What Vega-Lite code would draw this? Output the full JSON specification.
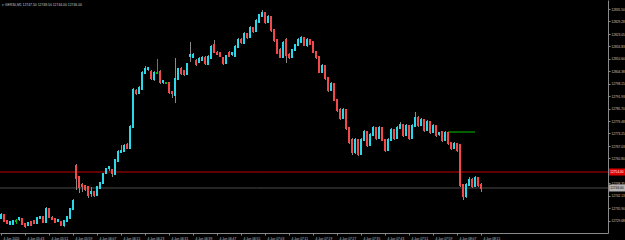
{
"$schema": "https://vega.github.io/schema/vega-lite/v6.json",
"width": 608, "height": 233,
"autosize": {"type": "none"},
"padding": {"left": 0, "top": 0, "right": 17, "bottom": 7},
"background": "#000000",
"config": {"view": {"stroke": null}, "font": "Liberation Sans",
  "axis": {"grid": false, "labelOverlap": false, "labelBound": false, "labelFlush": false, "title": null, "labelFont": "Liberation Sans",
           "domainColor": "#8a8a8a", "tickColor": "#8a8a8a", "tickSize": 2, "labelColor": "#c8c8c8", "labelFontSize": 3.2, "labelPadding": 1}},
"data": {"values": [
{"i":0,"o":12731,"h":12733.5,"l":12730.5,"c":12732.5},
{"i":1,"o":12732.5,"h":12733,"l":12729,"c":12729.5},
{"i":2,"o":12729.5,"h":12730,"l":12728,"c":12728.5},
{"i":3,"o":12728,"h":12729.5,"l":12727.5,"c":12729},
{"i":4,"o":12728,"h":12730,"l":12727.5,"c":12729.5},
{"i":5,"o":12729.5,"h":12730.5,"l":12728,"c":12729.5},
{"i":6,"o":12730.5,"h":12731.5,"l":12729.5,"c":12731},
{"i":7,"o":12730.5,"h":12731,"l":12727.5,"c":12728},
{"i":8,"o":12728,"h":12728.5,"l":12726,"c":12727},
{"i":9,"o":12727.5,"h":12729,"l":12727,"c":12728.5},
{"i":10,"o":12729,"h":12729.5,"l":12727,"c":12727.5},
{"i":11,"o":12729.5,"h":12730,"l":12728,"c":12728.5},
{"i":12,"o":12728.5,"h":12731.5,"l":12728,"c":12731},
{"i":13,"o":12731,"h":12732,"l":12730.5,"c":12731.5},
{"i":14,"o":12731.5,"h":12732,"l":12728.5,"c":12729},
{"i":15,"o":12729,"h":12736.5,"l":12728.5,"c":12735.5},
{"i":16,"o":12735.5,"h":12736,"l":12731,"c":12731.5},
{"i":17,"o":12731,"h":12732,"l":12730,"c":12730.5},
{"i":18,"o":12730.5,"h":12731,"l":12728.5,"c":12729},
{"i":19,"o":12729.5,"h":12730.5,"l":12729,"c":12730},
{"i":20,"o":12729,"h":12729.5,"l":12727,"c":12727.5},
{"i":21,"o":12727.5,"h":12730,"l":12726.5,"c":12729.5},
{"i":22,"o":12729.5,"h":12732,"l":12729,"c":12731.5},
{"i":23,"o":12731,"h":12736,"l":12730.5,"c":12735.5},
{"i":24,"o":12735.5,"h":12740.5,"l":12735,"c":12739.5},
{"i":25,"o":12757,"h":12758,"l":12745,"c":12751},
{"i":26,"o":12751.5,"h":12752,"l":12743.5,"c":12746.5},
{"i":27,"o":12747.5,"h":12748.5,"l":12744,"c":12747},
{"i":28,"o":12747,"h":12747.5,"l":12744.5,"c":12745.5},
{"i":29,"o":12746.5,"h":12747,"l":12741,"c":12742.5},
{"i":30,"o":12743.5,"h":12746.5,"l":12741.5,"c":12744},
{"i":31,"o":12744,"h":12744.5,"l":12741.5,"c":12742.5},
{"i":32,"o":12742.5,"h":12747,"l":12742,"c":12746.5},
{"i":33,"o":12746,"h":12749,"l":12745.5,"c":12748.5},
{"i":34,"o":12748.5,"h":12753.5,"l":12748,"c":12753},
{"i":35,"o":12753.5,"h":12756,"l":12753,"c":12755.5},
{"i":36,"o":12756,"h":12757,"l":12754.5,"c":12756.5},
{"i":37,"o":12755,"h":12755.5,"l":12751.5,"c":12753.5},
{"i":38,"o":12753,"h":12760.5,"l":12752.5,"c":12760},
{"i":39,"o":12759.5,"h":12765,"l":12759,"c":12764},
{"i":40,"o":12764,"h":12767.5,"l":12763.5,"c":12764.5},
{"i":41,"o":12764.5,"h":12768,"l":12764,"c":12767},
{"i":42,"o":12767.5,"h":12768.5,"l":12765.5,"c":12766},
{"i":43,"o":12766,"h":12777.5,"l":12765.5,"c":12776.5},
{"i":44,"o":12776.5,"h":12796,"l":12776,"c":12795},
{"i":45,"o":12794.5,"h":12795.5,"l":12792.5,"c":12793.5},
{"i":46,"o":12793.5,"h":12797,"l":12793,"c":12796},
{"i":47,"o":12795.5,"h":12804.5,"l":12795,"c":12803.5},
{"i":48,"o":12803.5,"h":12807,"l":12803,"c":12805.5},
{"i":49,"o":12805.5,"h":12806.5,"l":12804.5,"c":12806},
{"i":50,"o":12804,"h":12805,"l":12800,"c":12801},
{"i":51,"o":12800.5,"h":12804.5,"l":12799.5,"c":12803.5},
{"i":52,"o":12803.5,"h":12810.5,"l":12803,"c":12803.5},
{"i":53,"o":12804,"h":12805,"l":12798,"c":12799},
{"i":54,"o":12799,"h":12800,"l":12798,"c":12799.5},
{"i":55,"o":12798.5,"h":12799,"l":12798,"c":12798.5},
{"i":56,"o":12798.5,"h":12799,"l":12793,"c":12794},
{"i":57,"o":12794,"h":12794.5,"l":12791,"c":12793.5},
{"i":58,"o":12792.5,"h":12811,"l":12788.5,"c":12800.5},
{"i":59,"o":12800.5,"h":12806,"l":12800,"c":12805.5},
{"i":60,"o":12805.5,"h":12806.5,"l":12802.5,"c":12803.5},
{"i":61,"o":12804.5,"h":12805,"l":12802,"c":12803},
{"i":62,"o":12803,"h":12808.5,"l":12802.5,"c":12808},
{"i":63,"o":12812,"h":12819,"l":12809,"c":12812.5},
{"i":64,"o":12811.5,"h":12813.5,"l":12811,"c":12812.5},
{"i":65,"o":12809.5,"h":12810.5,"l":12807,"c":12808},
{"i":66,"o":12809,"h":12811.5,"l":12808.5,"c":12810.5},
{"i":67,"o":12810,"h":12812,"l":12809.5,"c":12811},
{"i":68,"o":12811,"h":12812,"l":12807.5,"c":12808.5},
{"i":69,"o":12808,"h":12812.5,"l":12807.5,"c":12811.5},
{"i":70,"o":12811,"h":12817.5,"l":12810.5,"c":12816.5},
{"i":71,"o":12817.5,"h":12820,"l":12813.5,"c":12814},
{"i":72,"o":12813.5,"h":12814.5,"l":12812.5,"c":12813},
{"i":73,"o":12813.5,"h":12814,"l":12811.5,"c":12812},
{"i":74,"o":12811,"h":12811.5,"l":12807.5,"c":12808.5},
{"i":75,"o":12808.5,"h":12812.5,"l":12808,"c":12812},
{"i":76,"o":12813.5,"h":12814.5,"l":12811.5,"c":12812},
{"i":77,"o":12813,"h":12813.5,"l":12812,"c":12813.5},
{"i":78,"o":12812,"h":12817.5,"l":12811.5,"c":12816.5},
{"i":79,"o":12816.5,"h":12821,"l":12816,"c":12820},
{"i":80,"o":12820,"h":12821,"l":12818,"c":12819},
{"i":81,"o":12818.5,"h":12824,"l":12818,"c":12823},
{"i":82,"o":12823,"h":12823.5,"l":12820.5,"c":12821.5},
{"i":83,"o":12821.5,"h":12827,"l":12821,"c":12826},
{"i":84,"o":12826,"h":12826.5,"l":12823.5,"c":12824.5},
{"i":85,"o":12824.5,"h":12830.5,"l":12824,"c":12829.5},
{"i":86,"o":12829,"h":12833,"l":12828.5,"c":12832.5},
{"i":87,"o":12832,"h":12835,"l":12831.5,"c":12833.5},
{"i":88,"o":12833.5,"h":12834,"l":12828,"c":12829},
{"i":89,"o":12829,"h":12832.5,"l":12828.5,"c":12831.5},
{"i":90,"o":12831.5,"h":12832,"l":12824,"c":12825},
{"i":91,"o":12825,"h":12825.5,"l":12819,"c":12820},
{"i":92,"o":12820,"h":12820.5,"l":12813,"c":12813.5},
{"i":93,"o":12815,"h":12816,"l":12811,"c":12811.5},
{"i":94,"o":12811.5,"h":12819.5,"l":12811,"c":12818.5},
{"i":95,"o":12820,"h":12821,"l":12808.5,"c":12812.5},
{"i":96,"o":12812.5,"h":12813.5,"l":12810.5,"c":12811.5},
{"i":97,"o":12811.5,"h":12815.5,"l":12811,"c":12815},
{"i":98,"o":12815,"h":12818,"l":12814.5,"c":12817.5},
{"i":99,"o":12817.5,"h":12821,"l":12817,"c":12820},
{"i":100,"o":12819,"h":12822,"l":12818.5,"c":12821},
{"i":101,"o":12821,"h":12821.5,"l":12817,"c":12817.5},
{"i":102,"o":12817.5,"h":12821,"l":12816.5,"c":12820},
{"i":103,"o":12820,"h":12820.5,"l":12817.5,"c":12818},
{"i":104,"o":12819,"h":12819.5,"l":12813.5,"c":12814},
{"i":105,"o":12814,"h":12814.5,"l":12810.5,"c":12811.5},
{"i":106,"o":12811.5,"h":12812,"l":12803.5,"c":12804},
{"i":107,"o":12804,"h":12808,"l":12803.5,"c":12807},
{"i":108,"o":12807,"h":12807.5,"l":12800,"c":12801},
{"i":109,"o":12801,"h":12801.5,"l":12794,"c":12795},
{"i":110,"o":12795,"h":12799,"l":12794.5,"c":12798},
{"i":111,"o":12798,"h":12798.5,"l":12789.5,"c":12790},
{"i":112,"o":12790,"h":12790.5,"l":12784,"c":12785},
{"i":113,"o":12785,"h":12786,"l":12780,"c":12781},
{"i":114,"o":12781,"h":12786,"l":12780.5,"c":12785},
{"i":115,"o":12785,"h":12785.5,"l":12775,"c":12776},
{"i":116,"o":12776,"h":12776.5,"l":12768,"c":12769},
{"i":117,"o":12770,"h":12771,"l":12762.5,"c":12764},
{"i":118,"o":12764,"h":12771,"l":12763,"c":12770},
{"i":119,"o":12770,"h":12770.5,"l":12762,"c":12763},
{"i":120,"o":12763,"h":12771,"l":12762.5,"c":12770},
{"i":121,"o":12770,"h":12775,"l":12769.5,"c":12774},
{"i":122,"o":12774,"h":12774.5,"l":12766.5,"c":12767.5},
{"i":123,"o":12767.5,"h":12773.5,"l":12767,"c":12772.5},
{"i":124,"o":12772.5,"h":12777,"l":12772,"c":12776},
{"i":125,"o":12776,"h":12776.5,"l":12770,"c":12771},
{"i":126,"o":12771,"h":12777,"l":12770.5,"c":12776},
{"i":127,"o":12776,"h":12776.5,"l":12769.5,"c":12770},
{"i":128,"o":12770,"h":12770.5,"l":12764,"c":12765},
{"i":129,"o":12765,"h":12771,"l":12764.5,"c":12770},
{"i":130,"o":12770,"h":12776,"l":12769.5,"c":12775},
{"i":131,"o":12775,"h":12775.5,"l":12770,"c":12771},
{"i":132,"o":12771,"h":12777,"l":12770.5,"c":12776},
{"i":133,"o":12776,"h":12779,"l":12775.5,"c":12777.5},
{"i":134,"o":12777.5,"h":12778,"l":12771.5,"c":12772.5},
{"i":135,"o":12772.5,"h":12778,"l":12772,"c":12777},
{"i":136,"o":12777,"h":12777.5,"l":12770,"c":12771},
{"i":137,"o":12771,"h":12778,"l":12770.5,"c":12777},
{"i":138,"o":12777,"h":12784,"l":12776.5,"c":12781},
{"i":139,"o":12781,"h":12782,"l":12776.5,"c":12777.5},
{"i":140,"o":12777.5,"h":12781,"l":12777,"c":12780},
{"i":141,"o":12780,"h":12780.5,"l":12774,"c":12775},
{"i":142,"o":12775,"h":12780,"l":12774.5,"c":12779},
{"i":143,"o":12779,"h":12779.5,"l":12773,"c":12774},
{"i":144,"o":12774,"h":12778,"l":12773.5,"c":12777},
{"i":145,"o":12777,"h":12777.5,"l":12771.5,"c":12772.5},
{"i":146,"o":12773,"h":12774,"l":12772,"c":12773.5},
{"i":147,"o":12774,"h":12774.5,"l":12769,"c":12770},
{"i":148,"o":12770,"h":12774.5,"l":12769.5,"c":12773.5},
{"i":149,"o":12773.5,"h":12774,"l":12767.5,"c":12768.5},
{"i":150,"o":12768.5,"h":12769,"l":12765,"c":12766},
{"i":151,"o":12766,"h":12769,"l":12765.5,"c":12768},
{"i":152,"o":12768,"h":12768.5,"l":12764,"c":12765},
{"i":153,"o":12767.5,"h":12768,"l":12746.5,"c":12747.5},
{"i":154,"o":12747.5,"h":12748,"l":12740,"c":12742},
{"i":155,"o":12742,"h":12748.5,"l":12741,"c":12747.5},
{"i":156,"o":12747.5,"h":12751.5,"l":12747,"c":12750},
{"i":157,"o":12750,"h":12751,"l":12746,"c":12747},
{"i":158,"o":12747,"h":12752,"l":12746.5,"c":12751},
{"i":159,"o":12751,"h":12751.5,"l":12746.5,"c":12747.5},
{"i":160,"o":12747.5,"h":12748.5,"l":12744,"c":12746}
]},
"layer": [
{"data": {"values": [{"p": 12746}]},
 "mark": {"type": "rule", "color": "#4a4a4a", "strokeWidth": 1},
 "encoding": {
   "y": {"field": "p", "type": "quantitative", "scale": {"domain": [12723.5, 12840], "zero": false, "nice": false},
         "axis": {"orient": "right", "values": [12835.5, 12829.28, 12823.05, 12816.83, 12810.6, 12804.38, 12798.15, 12791.93, 12785.7, 12779.48, 12773.25, 12767.03, 12760.8, 12748.35, 12742.13, 12735.9, 12729.68, 12723.45], "format": ".2f", "labelBaseline": "middle", "labelAlign": "left"}}}},
{"data": {"values": [{"p": 12754}]},
 "mark": {"type": "rule", "color": "#c00000", "strokeWidth": 1},
 "encoding": {
   "y": {"field": "p", "type": "quantitative", "scale": {"domain": [12723.5, 12840], "zero": false, "nice": false},
         "axis": {"orient": "right", "values": [12835.5, 12829.28, 12823.05, 12816.83, 12810.6, 12804.38, 12798.15, 12791.93, 12785.7, 12779.48, 12773.25, 12767.03, 12760.8, 12748.35, 12742.13, 12735.9, 12729.68, 12723.45], "format": ".2f", "labelBaseline": "middle", "labelAlign": "left"}}}},
{"data": {"values": [{"a": 149, "b": 158, "p": 12774}]},
 "mark": {"type": "rule", "color": "#00c000", "strokeWidth": 1},
 "encoding": {
   "x": {"field": "a", "type": "quantitative", "scale": {"domain": [-0.3333333, 202.3333333], "zero": false, "nice": false},
         "axis": {"orient": "bottom", "values": [0,8,16,24,32,40,48,56,64,72,80,88,96,104,112,120,128,136,144,152,160], "labelExpr": "datum.value == 0 ? '4 Jun 2020' : '4 Jun ' + (floor((335 + datum.value) / 60) < 10 ? '0' : '') + floor((335 + datum.value) / 60) + ':' + ((335 + datum.value) % 60 < 10 ? '0' : '') + ((335 + datum.value) % 60)", "labelAlign": "left", "labelBaseline": "top", "labelOffset": 2}},
   "x2": {"field": "b"},
   "y": {"field": "p", "type": "quantitative", "scale": {"domain": [12723.5, 12840], "zero": false, "nice": false},
         "axis": {"orient": "right", "values": [12835.5, 12829.28, 12823.05, 12816.83, 12810.6, 12804.38, 12798.15, 12791.93, 12785.7, 12779.48, 12773.25, 12767.03, 12760.8, 12748.35, 12742.13, 12735.9, 12729.68, 12723.45], "format": ".2f", "labelBaseline": "middle", "labelAlign": "left"}}}},
{"mark": {"type": "rule", "strokeWidth": 1, "xOffset": 0.5},
 "encoding": {
   "x": {"field": "i", "type": "quantitative", "scale": {"domain": [-0.3333333, 202.3333333], "zero": false, "nice": false},
         "axis": {"orient": "bottom", "values": [0,8,16,24,32,40,48,56,64,72,80,88,96,104,112,120,128,136,144,152,160], "labelExpr": "datum.value == 0 ? '4 Jun 2020' : '4 Jun ' + (floor((335 + datum.value) / 60) < 10 ? '0' : '') + floor((335 + datum.value) / 60) + ':' + ((335 + datum.value) % 60 < 10 ? '0' : '') + ((335 + datum.value) % 60)", "labelAlign": "left", "labelBaseline": "top", "labelOffset": 2}},
   "y": {"field": "l", "type": "quantitative", "scale": {"domain": [12723.5, 12840], "zero": false, "nice": false},
         "axis": {"orient": "right", "values": [12835.5, 12829.28, 12823.05, 12816.83, 12810.6, 12804.38, 12798.15, 12791.93, 12785.7, 12779.48, 12773.25, 12767.03, 12760.8, 12748.35, 12742.13, 12735.9, 12729.68, 12723.45], "format": ".2f", "labelBaseline": "middle", "labelAlign": "left"}},
   "y2": {"field": "h"},
   "color": {"condition": {"test": "datum.o == datum.c", "value": "#00c000"}, "value": "#8a8a8a"}}},
{"mark": {"type": "rule", "strokeWidth": 2, "strokeCap": "square"},
 "encoding": {
   "x": {"field": "i", "type": "quantitative", "scale": {"domain": [-0.3333333, 202.3333333], "zero": false, "nice": false},
         "axis": {"orient": "bottom", "values": [0,8,16,24,32,40,48,56,64,72,80,88,96,104,112,120,128,136,144,152,160], "labelExpr": "datum.value == 0 ? '4 Jun 2020' : '4 Jun ' + (floor((335 + datum.value) / 60) < 10 ? '0' : '') + floor((335 + datum.value) / 60) + ':' + ((335 + datum.value) % 60 < 10 ? '0' : '') + ((335 + datum.value) % 60)", "labelAlign": "left", "labelBaseline": "top", "labelOffset": 2}},
   "y": {"field": "o", "type": "quantitative", "scale": {"domain": [12723.5, 12840], "zero": false, "nice": false},
         "axis": {"orient": "right", "values": [12835.5, 12829.28, 12823.05, 12816.83, 12810.6, 12804.38, 12798.15, 12791.93, 12785.7, 12779.48, 12773.25, 12767.03, 12760.8, 12748.35, 12742.13, 12735.9, 12729.68, 12723.45], "format": ".2f", "labelBaseline": "middle", "labelAlign": "left"}},
   "y2": {"field": "c"},
   "color": {"condition": [{"test": "datum.c > datum.o", "value": "#2ad8ea"}, {"test": "datum.c < datum.o", "value": "#f24a4a"}], "value": "#00c000"}}},
{"data": {"values": [{"p": 12754, "lo": 12752.25, "hi": 12755.75, "a": 202.7, "b": 208.5, "t": 203.1}]},
 "layer": [
  {"mark": {"type": "rect", "color": "#e00000"},
   "encoding": {
     "x": {"field": "a", "type": "quantitative", "scale": {"domain": [-0.3333333, 202.3333333], "zero": false, "nice": false},
           "axis": {"orient": "bottom", "values": [0,8,16,24,32,40,48,56,64,72,80,88,96,104,112,120,128,136,144,152,160], "labelExpr": "datum.value == 0 ? '4 Jun 2020' : '4 Jun ' + (floor((335 + datum.value) / 60) < 10 ? '0' : '') + floor((335 + datum.value) / 60) + ':' + ((335 + datum.value) % 60 < 10 ? '0' : '') + ((335 + datum.value) % 60)", "labelAlign": "left", "labelBaseline": "top", "labelOffset": 2}},
     "x2": {"field": "b"},
     "y": {"field": "hi", "type": "quantitative", "scale": {"domain": [12723.5, 12840], "zero": false, "nice": false},
           "axis": {"orient": "right", "values": [12835.5, 12829.28, 12823.05, 12816.83, 12810.6, 12804.38, 12798.15, 12791.93, 12785.7, 12779.48, 12773.25, 12767.03, 12760.8, 12748.35, 12742.13, 12735.9, 12729.68, 12723.45], "format": ".2f", "labelBaseline": "middle", "labelAlign": "left"}},
     "y2": {"field": "lo"}}},
  {"mark": {"type": "text", "color": "#ffffff", "fontSize": 3.2, "align": "left", "baseline": "middle"},
   "encoding": {
     "x": {"field": "t", "type": "quantitative", "scale": {"domain": [-0.3333333, 202.3333333], "zero": false, "nice": false},
           "axis": {"orient": "bottom", "values": [0,8,16,24,32,40,48,56,64,72,80,88,96,104,112,120,128,136,144,152,160], "labelExpr": "datum.value == 0 ? '4 Jun 2020' : '4 Jun ' + (floor((335 + datum.value) / 60) < 10 ? '0' : '') + floor((335 + datum.value) / 60) + ':' + ((335 + datum.value) % 60 < 10 ? '0' : '') + ((335 + datum.value) % 60)", "labelAlign": "left", "labelBaseline": "top", "labelOffset": 2}},
     "y": {"field": "p", "type": "quantitative", "scale": {"domain": [12723.5, 12840], "zero": false, "nice": false},
           "axis": {"orient": "right", "values": [12835.5, 12829.28, 12823.05, 12816.83, 12810.6, 12804.38, 12798.15, 12791.93, 12785.7, 12779.48, 12773.25, 12767.03, 12760.8, 12748.35, 12742.13, 12735.9, 12729.68, 12723.45], "format": ".2f", "labelBaseline": "middle", "labelAlign": "left"}},
     "text": {"field": "p", "type": "quantitative", "format": ".2f"}}}
 ]},
{"data": {"values": [{"p": 12746, "lo": 12744.25, "hi": 12747.75, "a": 202.7, "b": 208.5, "t": 203.1}]},
 "layer": [
  {"mark": {"type": "rect", "color": "#b4b4b4"},
   "encoding": {
     "x": {"field": "a", "type": "quantitative", "scale": {"domain": [-0.3333333, 202.3333333], "zero": false, "nice": false},
           "axis": {"orient": "bottom", "values": [0,8,16,24,32,40,48,56,64,72,80,88,96,104,112,120,128,136,144,152,160], "labelExpr": "datum.value == 0 ? '4 Jun 2020' : '4 Jun ' + (floor((335 + datum.value) / 60) < 10 ? '0' : '') + floor((335 + datum.value) / 60) + ':' + ((335 + datum.value) % 60 < 10 ? '0' : '') + ((335 + datum.value) % 60)", "labelAlign": "left", "labelBaseline": "top", "labelOffset": 2}},
     "x2": {"field": "b"},
     "y": {"field": "hi", "type": "quantitative", "scale": {"domain": [12723.5, 12840], "zero": false, "nice": false},
           "axis": {"orient": "right", "values": [12835.5, 12829.28, 12823.05, 12816.83, 12810.6, 12804.38, 12798.15, 12791.93, 12785.7, 12779.48, 12773.25, 12767.03, 12760.8, 12748.35, 12742.13, 12735.9, 12729.68, 12723.45], "format": ".2f", "labelBaseline": "middle", "labelAlign": "left"}},
     "y2": {"field": "lo"}}},
  {"mark": {"type": "text", "color": "#000000", "fontSize": 3.2, "align": "left", "baseline": "middle"},
   "encoding": {
     "x": {"field": "t", "type": "quantitative", "scale": {"domain": [-0.3333333, 202.3333333], "zero": false, "nice": false},
           "axis": {"orient": "bottom", "values": [0,8,16,24,32,40,48,56,64,72,80,88,96,104,112,120,128,136,144,152,160], "labelExpr": "datum.value == 0 ? '4 Jun 2020' : '4 Jun ' + (floor((335 + datum.value) / 60) < 10 ? '0' : '') + floor((335 + datum.value) / 60) + ':' + ((335 + datum.value) % 60 < 10 ? '0' : '') + ((335 + datum.value) % 60)", "labelAlign": "left", "labelBaseline": "top", "labelOffset": 2}},
     "y": {"field": "p", "type": "quantitative", "scale": {"domain": [12723.5, 12840], "zero": false, "nice": false},
           "axis": {"orient": "right", "values": [12835.5, 12829.28, 12823.05, 12816.83, 12810.6, 12804.38, 12798.15, 12791.93, 12785.7, 12779.48, 12773.25, 12767.03, 12760.8, 12748.35, 12742.13, 12735.9, 12729.68, 12723.45], "format": ".2f", "labelBaseline": "middle", "labelAlign": "left"}},
     "text": {"field": "p", "type": "quantitative", "format": ".2f"}}}
 ]},
{"data": {"values": [{"label": "▾ GER30,M1  12747.50 12748.50 12744.00 12746.00", "x": 0.3, "p": 12837.5}]},
 "mark": {"type": "text", "color": "#c8c8c8", "fontSize": 3.4, "align": "left", "baseline": "middle"},
 "encoding": {
   "x": {"field": "x", "type": "quantitative", "scale": {"domain": [-0.3333333, 202.3333333], "zero": false, "nice": false},
         "axis": {"orient": "bottom", "values": [0,8,16,24,32,40,48,56,64,72,80,88,96,104,112,120,128,136,144,152,160], "labelExpr": "datum.value == 0 ? '4 Jun 2020' : '4 Jun ' + (floor((335 + datum.value) / 60) < 10 ? '0' : '') + floor((335 + datum.value) / 60) + ':' + ((335 + datum.value) % 60 < 10 ? '0' : '') + ((335 + datum.value) % 60)", "labelAlign": "left", "labelBaseline": "top", "labelOffset": 2}},
   "y": {"field": "p", "type": "quantitative", "scale": {"domain": [12723.5, 12840], "zero": false, "nice": false},
         "axis": {"orient": "right", "values": [12835.5, 12829.28, 12823.05, 12816.83, 12810.6, 12804.38, 12798.15, 12791.93, 12785.7, 12779.48, 12773.25, 12767.03, 12760.8, 12748.35, 12742.13, 12735.9, 12729.68, 12723.45], "format": ".2f", "labelBaseline": "middle", "labelAlign": "left"}},
   "text": {"field": "label"}}}
]
}
